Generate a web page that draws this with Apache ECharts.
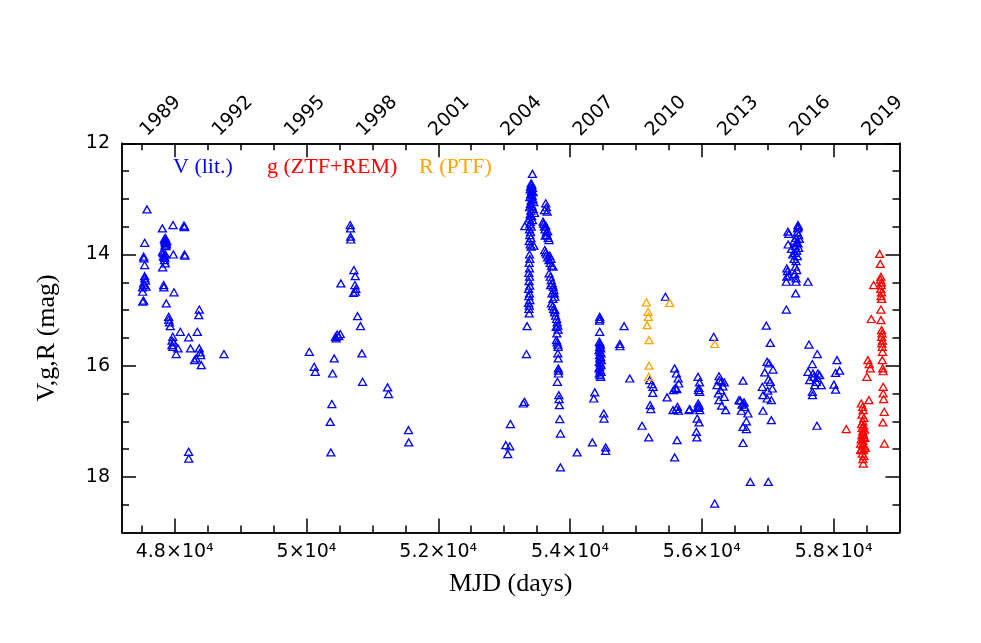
<!DOCTYPE html>
<html><head><meta charset="utf-8">
<script src="https://cdn.jsdelivr.net/npm/echarts@6/dist/echarts.min.js"></script>
<style>html,body{margin:0;padding:0;background:#fff}#c{width:981px;height:643px}</style>
</head><body><div id="c"></div><script>
// ---- axis ticks / labels ----
const mjdMajor = [48000,50000,52000,54000,56000,58000];
const mjdMajorLabels = ['4.8×10⁴','5×10⁴','5.2×10⁴','5.4×10⁴','5.6×10⁴','5.8×10⁴'];
const mjdMinor = [47500,48000,48500,49000,49500,50000,50500,51000,51500,52000,52500,53000,53500,54000,54500,55000,55500,56000,56500,57000,57500,58000,58500];
const yearLabels = ['1989','1992','1995','1998','2001','2004','2007','2010','2013','2016','2019'];
const yearMJD = [47527,48622,49718,50814,51910,53005,54101,55197,56293,57388,58484];
const magMajor = [12,14,16,18];
const magMinor = [12.5,13,13.5,14,14.5,15,15.5,16,16.5,17,17.5,18,18.5];

// ---- data: [MJD, mag] ----
const vPoints = [
[47579,13.19],[47812,13.53],[47974,13.47],[48140,13.48],[48145,13.51],[48150,13.50],
[47544,13.79],[47845,13.72],[47850,13.75],[47855,13.78],[47860,13.74],[47865,13.80],[47870,13.77],[47875,13.82],[47880,13.76],[47852,13.84],[47868,13.85],[47858,13.70],[47862,13.79],
[47815,13.95],[47825,13.98],[47840,14.02],[47850,14.06],[47845,14.10],[47860,14.00],[47830,14.04],
[47979,14.00],[48148,14.00],[48155,14.02],
[47529,14.04],[47532,14.07],[47544,14.19],[47817,14.23],[47857,14.16],
[47544,14.39],[47546,14.43],[47555,14.47],[47528,14.52],[47512,14.59],[47565,14.58],[47540,14.55],
[47513,14.67],[47515,14.85],[47528,14.83],
[47832,14.55],[47835,14.59],[47989,14.68],[47872,14.88],
[47908,15.12],[47910,15.17],[47920,15.22],[47933,15.29],
[48373,14.99],[48365,15.09],[48085,15.39],[48343,15.39],
[47970,15.48],[47960,15.55],[47985,15.58],[47958,15.63],[47972,15.66],[48050,15.69],[48022,15.79],
[48211,15.49],[48240,15.69],[48373,15.69],[48385,15.76],[48395,15.81],
[48300,15.90],[48325,15.87],[48403,15.99],[48747,15.79],
[48211,17.55],[48213,17.67],
[50664,13.47],[50668,13.53],[50670,13.68],[50672,13.73],
[50719,14.28],[50740,14.39],[50522,14.52],
[50735,14.55],[50750,14.62],[50715,14.69],[50740,14.67],
[50775,15.11],[50820,15.29],
[50440,15.48],[50465,15.44],[50512,15.43],[50450,15.51],[50490,15.47],
[50042,15.75],[50841,15.78],[50421,15.87],
[50117,16.02],[50133,16.11],[50396,16.14],[50851,16.29],
[51230,16.39],[51245,16.51],
[50385,16.69],[50360,17.01],[50370,17.56],
[51548,17.16],[51552,17.38],
[53025,17.43],[53085,17.45],[53055,17.59],[53095,17.05],
[53290,16.68],[53308,16.65],
[53338,15.79],[53348,15.29],[53313,13.49],[53429,12.55],
[53410,12.72],[53420,12.75],[53400,12.78],[53430,12.80],[53395,12.83],[53415,12.86],[53440,12.88],[53405,12.91],[53425,12.94],[53390,12.97],
[53435,13.00],[53410,13.03],[53450,13.06],[53400,13.09],[53420,13.12],[53385,13.15],[53440,13.18],[53405,13.21],[53460,13.25],[53395,13.28],
[53415,13.31],[53380,13.35],[53430,13.38],[53400,13.42],[53390,13.46],[53410,13.50],[53385,13.55],[53400,13.60],[53390,13.65],[53405,13.70],
[53380,13.76],[53395,13.82],[53410,13.86],[53450,13.84],
[53385,14.00],[53390,14.08],[53380,14.15],[53385,14.25],[53375,14.33],[53385,14.40],[53378,14.48],[53388,14.56],[53372,14.62],[53385,14.70],
[53375,14.75],[53390,14.82],[53370,14.87],[53382,14.92],[53376,14.98],[53380,15.06],
[53631,13.08],[53652,13.23],[53612,13.20],[53640,13.15],
[53591,13.41],[53600,13.45],[53610,13.50],[53620,13.55],[53630,13.48],[53640,13.60],[53650,13.65],[53660,13.58],[53670,13.70],[53680,13.74],[53625,13.66],
[53616,13.92],[53630,13.96],[53645,14.00],[53660,14.05],[53680,14.10],[53700,14.15],[53720,14.20],[53742,14.22],[53690,14.02],[53710,14.08],
[53682,14.34],[53700,14.40],[53715,14.46],[53730,14.52],[53745,14.58],[53755,14.64],[53760,14.70],[53768,14.76],[53740,14.80],[53725,14.70],[53705,14.55],
[53718,14.88],[53735,14.93],[53750,14.98],[53765,15.04],[53780,15.10],[53795,15.16],[53805,15.22],[53815,15.28],[53819,15.35],[53800,15.42],[53770,15.00],[53790,15.30],
[53793,15.54],[53805,15.58],[53819,15.66],[53815,15.62],
[53815,15.78],[53820,15.87],[53822,16.05],[53826,16.09],[53824,16.14],[53808,16.29],
[53830,16.53],[53834,16.60],[53838,16.71],[53844,16.96],[53854,17.22],[53854,17.83],
[54107,17.56],[54339,17.38],[54375,16.48],[54360,16.59],
[54511,16.86],[54515,16.95],[54541,17.47],[54541,17.53],
[54450,15.12],[54452,15.16],[54448,15.19],[54450,15.39],
[54445,15.57],[54455,15.60],[54460,15.63],[54450,15.66],[54465,15.69],[54440,15.72],[54458,15.75],[54470,15.78],[54448,15.81],[54462,15.84],
[54452,15.87],[54475,15.90],[54445,15.93],[54460,15.96],[54468,15.99],[54450,16.02],[54440,16.05],[54458,16.08],[54470,16.11],[54445,16.14],[54455,16.17],[54465,16.20],
[54820,15.29],[54754,15.61],[54758,15.65],[54906,16.23],
[55093,17.08],[55194,17.29],[55447,14.76],
[55209,16.26],[55240,16.33],[55260,16.38],[55255,16.49],[55215,16.71],[55225,16.78],
[55472,16.57],
[55588,16.05],[55614,16.14],[55640,16.23],[55650,16.32],[55600,16.40],[55570,16.44],[55620,16.42],
[55563,16.80],[55614,16.78],[55630,16.74],[55645,16.81],
[55806,16.80],[55624,17.34],[55588,17.65],
[56180,15.48],
[55942,16.20],[55965,16.30],[55955,16.40],[55968,16.47],[55950,16.44],
[55945,16.68],[55960,16.72],[55952,16.76],[55968,16.80],[55940,16.74],
[55816,16.78],[55930,16.95],[55958,17.02],[55917,17.19],[55925,17.29],
[56195,18.48],
[56260,16.19],[56265,16.26],[56300,16.28],[56340,16.30],[56230,16.35],[56250,16.50],[56260,16.62],[56340,16.56],[56300,16.72],[56362,16.80],[56285,16.44],[56320,16.37],
[56625,16.27],
[56564,16.62],[56585,16.63],[56600,16.81],[56625,16.68],[56650,16.74],[56700,16.86],[56625,17.10],[56676,17.14],[56676,17.00],[56625,17.39],[56610,16.70],[56640,16.66],
[56736,18.09],[57009,18.09],
[56979,15.28],[57039,15.59],
[56990,15.93],[57020,15.96],[56955,16.12],[57080,16.07],[57039,16.29],[57070,16.41],[56918,16.38],[56928,16.53],[56990,16.59],[57055,16.62],[56928,16.81],[57055,16.98],[57010,16.25],[57000,16.45],
[57459,13.47],[57465,13.50],[57455,13.53],[57307,13.59],[57320,13.63],[57450,13.60],[57470,13.65],[57430,13.70],[57480,13.72],[57440,13.78],
[57460,13.80],[57400,13.75],[57310,13.82],[57420,13.85],[57470,13.88],[57360,13.90],[57440,13.93],[57410,13.97],[57380,14.00],[57450,14.03],
[57400,14.08],[57430,14.12],[57290,14.25],[57300,14.30],[57420,14.22],[57440,14.28],[57410,14.35],[57290,14.40],[57320,14.38],[57430,14.43],
[57282,14.49],[57430,14.49],[57611,14.49],[57424,14.70],[57282,14.99],
[57626,15.62],[57752,15.79],[57677,15.97],
[57611,16.11],[57687,16.14],[57762,16.14],[57788,16.17],[57636,16.26],[57737,16.29],[57712,16.35],[57813,16.35],[57677,16.47],[57680,16.53],[57700,16.20],[57750,16.22],
[57747,17.08],
[58051,15.90],[58030,16.13],[58091,16.09],[58005,16.34],[58030,16.43]
];
const gPoints = [
[58192,17.14],
[58420,16.68],[58440,16.74],[58450,16.80],[58430,16.88],[58460,16.94],[58445,17.00],[58425,17.05],[58455,17.08],[58435,17.12],[58470,17.15],
[58440,17.18],[58450,17.22],[58430,17.25],[58460,17.28],[58420,17.32],[58445,17.35],[58475,17.30],[58410,17.40],[58440,17.42],[58470,17.45],
[58420,17.50],[58455,17.52],[58480,17.48],[58435,17.58],[58460,17.62],[58445,17.68],[58450,17.76],[58410,17.52],
[58536,16.62],[58520,15.90],[58540,15.97],[58556,16.05],[58505,16.20],[58571,15.16],[58607,14.55],
[58698,13.99],[58708,14.17],[58718,14.40],[58712,14.45],[58725,14.50],[58722,14.55],[58715,14.62],[58728,14.68],[58720,14.75],[58730,14.80],
[58718,14.99],[58718,15.18],[58728,15.36],[58735,15.42],[58730,15.48],[58740,15.55],[58732,15.60],[58738,15.66],[58742,15.75],[58738,15.90],
[58745,16.05],[58752,16.10],[58752,16.38],[58752,16.50],[58760,16.60],[58768,16.83],[58748,17.02],[58770,17.40]
];
const rPoints = [
[55159,14.86],[55184,15.03],[55189,15.12],[55169,15.27],[55199,15.54],[55199,16.00],[55194,16.20],[55512,14.87],[56195,15.61]
];

const seriesNames = ['V (lit.)','g (ZTF+REM)','R (PTF)'];
const seriesColors = ['#0000ff','#ff0000','#ffa500'];

const LINE = {color:'#000', width:1.5};
const TICKFONT = {fontFamily:'DejaVu Sans', fontSize:19, color:'#000'};
const SERIF = 'Liberation Serif';

function xAx(pos, ticks, len, extra){
  return Object.assign({
    type:'value', position:pos, min:47200, max:59000,
    axisLine:{show:true, onZero:false, lineStyle:LINE},
    axisTick:{show:true, inside:true, length:len, customValues:ticks, lineStyle:LINE},
    axisLabel:{show:false}, splitLine:{show:false}
  }, extra||{});
}
function yAx(pos, ticks, len, extra){
  return Object.assign({
    type:'value', position:pos, min:12, max:19, inverse:true,
    axisLine:{show:true, onZero:false, lineStyle:LINE},
    axisTick:{show:true, inside:true, length:len, customValues:ticks, lineStyle:LINE},
    axisLabel:{show:false}, splitLine:{show:false}
  }, extra||{});
}

const chart = echarts.init(document.getElementById('c'), null, {renderer:'canvas'});
chart.setOption({
  animation:false,
  backgroundColor:'#fff',
  grid:{left:122, right:81.5, top:143.3, bottom:110.5, containLabel:false},
  legend:[0,1,2].map((i)=>({
    show:true, data:[{name:seriesNames[i], icon:'none'}], itemWidth:0, itemHeight:10,
    left:[163,257,409][i], top:151, selectedMode:false,
    textStyle:{fontFamily:SERIF, fontSize:22, color:seriesColors[i]}
  })),
  xAxis:[
    xAx('bottom', mjdMinor, 7, {
      axisLabel:{show:true, customValues:mjdMajor, margin:10, ...TICKFONT,
        formatter:(v)=>mjdMajorLabels[mjdMajor.indexOf(v)]},
      name:'MJD (days)', nameLocation:'middle', nameGap:39,
      nameTextStyle:{fontFamily:SERIF, fontSize:26, color:'#000'}
    }),
    xAx('bottom', mjdMajor, 14),
    xAx('top', mjdMinor, 7, {
      axisLabel:{show:true, customValues:yearMJD, rotate:-45, margin:10, padding:[0,0,12,0], ...TICKFONT,
        formatter:(v)=>yearLabels[yearMJD.indexOf(v)]}
    }),
    xAx('top', mjdMajor, 14)
  ],
  yAxis:[
    yAx('left', magMinor, 7, {
      axisLabel:{show:true, customValues:magMajor, margin:12, ...TICKFONT},
      name:'V,g,R (mag)', nameLocation:'middle', nameGap:62, nameRotate:90,
      nameTextStyle:{fontFamily:SERIF, fontSize:26, color:'#000'}
    }),
    yAx('left', magMajor, 14),
    yAx('right', magMinor, 7),
    yAx('right', magMajor, 14)
  ],
  series:[vPoints, gPoints, rPoints].map((d,i)=>({
    name:seriesNames[i], type:'scatter', xAxisIndex:0, yAxisIndex:0,
    data:d, symbol:'triangle', symbolSize:[8,7],
    itemStyle:{color:'rgba(0,0,0,0)', borderColor:seriesColors[i], borderWidth:1.3, opacity:1},
    emphasis:{disabled:true}
  }))
});
</script></body></html>
